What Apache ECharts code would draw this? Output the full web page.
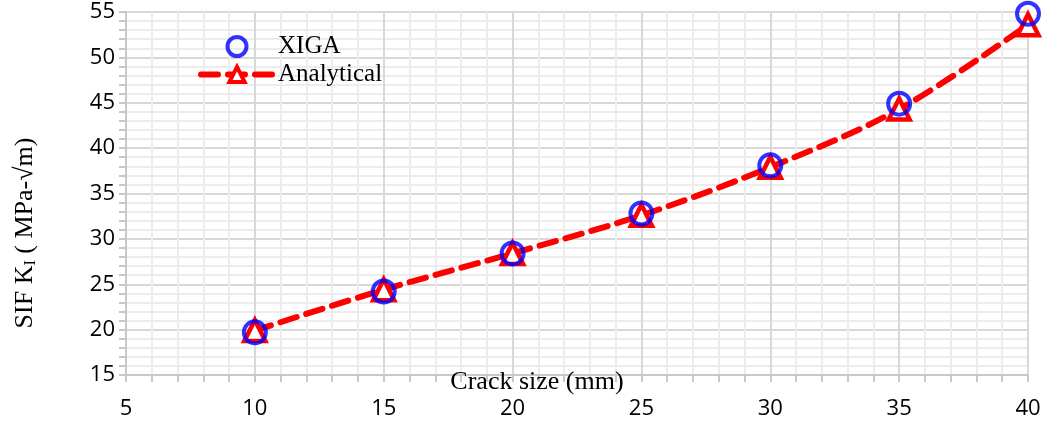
<!DOCTYPE html>
<html>
<head>
<meta charset="utf-8">
<script src="https://cdn.jsdelivr.net/npm/echarts@6/dist/echarts.min.js"></script>
<style>
html,body{margin:0;padding:0;background:#fff;}
#chart{width:1044px;height:426px;}
</style>
</head>
<body>
<div id="chart"></div>
<script>
var crackSizes = [10, 15, 20, 25, 30, 35, 40];
var xigaValues = [19.7, 24.2, 28.4, 32.8, 38.1, 44.9, 54.8];
var analyticalValues = [19.9, 24.4, 28.4, 32.6, 37.9, 44.3, 53.6];
var seriesNames = ['XIGA', 'Analytical'];
var xAxisTitle = 'Crack size (mm)';
var yAxisTitleMain = 'SIF K';
var yAxisTitleSub = 'I';
var yAxisTitleRest = ' ( MPa-\u221Am)';

function pairs(xs, ys) { return xs.map(function (x, i) { return [x, ys[i]]; }); }

var chart = echarts.init(document.getElementById('chart'), null, { renderer: 'canvas' });
var serif = '"Liberation Serif", "Times New Roman", serif';
var sans = '"Open Sans", Lato, sans-serif';
var option = {
  animation: false,
  backgroundColor: '#ffffff',
  grid: { left: 126, right: 16, top: 12, bottom: 51, show: true, borderColor: '#d0d0d0', borderWidth: 2 },
  legend: {
    left: 193, top: 29, orient: 'vertical', itemGap: 3,
    itemWidth: 72, itemHeight: 19,
    textStyle: { fontFamily: serif, fontSize: 25, color: '#000' },
    lineStyle: { width: 6 },
    itemStyle: { borderWidth: 4 },
    data: seriesNames
  },
  xAxis: {
    type: 'value', min: 5, max: 40, interval: 5,
    axisLine: { onZero: false, lineStyle: { color: '#c8c8c8', width: 2 } },
    axisTick: { show: true, length: 7, lineStyle: { color: '#c8c8c8', width: 2 } },
    minorTick: { show: true, splitNumber: 5, length: 7, lineStyle: { color: '#c8c8c8', width: 2 } },
    splitLine: { show: true, lineStyle: { color: '#d8d8d8', width: 2 } },
    minorSplitLine: { show: true, lineStyle: { color: '#ececec', width: 2 } },
    axisLabel: { fontFamily: sans, fontSize: 22, color: '#000', margin: 23 }
  },
  yAxis: {
    type: 'value', min: 15, max: 55, interval: 5,
    axisLine: { show: true, onZero: false, lineStyle: { color: '#c8c8c8', width: 2 } },
    axisTick: { show: true, length: 7, lineStyle: { color: '#c8c8c8', width: 2 } },
    minorTick: { show: true, splitNumber: 5, length: 7, lineStyle: { color: '#c8c8c8', width: 2 } },
    splitLine: { show: true, lineStyle: { color: '#d8d8d8', width: 2 } },
    minorSplitLine: { show: true, lineStyle: { color: '#ececec', width: 2 } },
    axisLabel: { fontFamily: sans, fontSize: 22, color: '#000', margin: 11 }
  },
  graphic: [
    {
      type: 'text', x: 537, y: 382,
      style: { text: xAxisTitle, font: '26px ' + serif, fill: '#000', align: 'center', verticalAlign: 'middle' },
      z: 100
    },
    {
      type: 'text', x: 25, y: 233, rotation: Math.PI / 2,
      style: {
        text: '{m|' + yAxisTitleMain + '}{s|' + yAxisTitleSub + '}{m|' + yAxisTitleRest + '}',
        align: 'center', verticalAlign: 'middle',
        rich: {
          m: { fontFamily: serif, fontSize: 26, color: '#000' },
          s: { fontFamily: serif, fontSize: 16, color: '#000', padding: [12, 0, 0, 0] }
        }
      },
      z: 100
    }
  ],
  series: [
    {
      name: seriesNames[1], type: 'line', smooth: 0.35,
      data: pairs(crackSizes, analyticalValues),
      symbol: 'triangle', symbolSize: 21,
      itemStyle: { color: '#ffffff', borderColor: '#ff0000', borderWidth: 4.5 },
      lineStyle: { color: '#ff0000', width: 6, type: [17, 10], cap: 'round' },
      z: 2
    },
    {
      name: seriesNames[0], type: 'scatter',
      data: pairs(crackSizes, xigaValues),
      symbol: 'circle', symbolSize: 22,
      itemStyle: { color: 'rgba(255,255,255,0)', borderColor: '#0000ff', borderWidth: 4 },
      z: 3
    }
  ]
};
chart.setOption(option);
</script>
</body>
</html>
